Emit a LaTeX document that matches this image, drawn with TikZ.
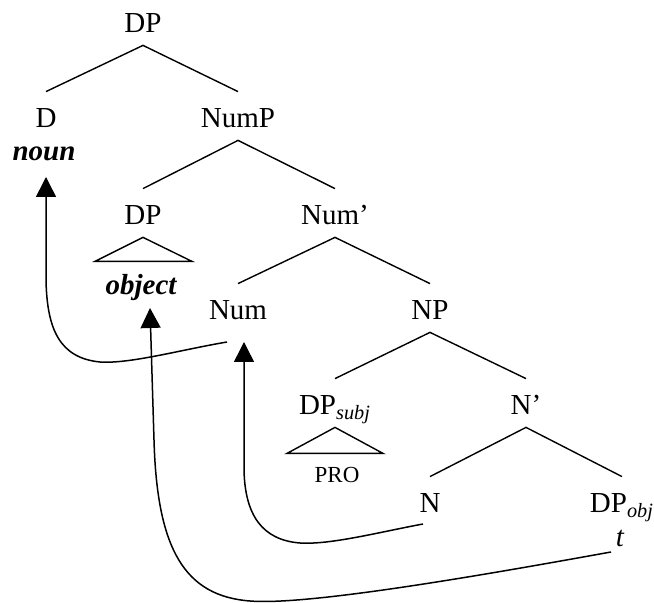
\documentclass[tikz,border=0pt]{standalone}
\usepackage{fontspec}
\setmainfont{Liberation Serif}
\usetikzlibrary{arrows.meta,calc}
\begin{document}
\begin{tikzpicture}[x=0.5pt,y=-0.5pt,
  lab/.style={anchor=base,inner sep=0pt,text height=18pt,text depth=6pt,font=\fontsize{14.5}{16}\selectfont},
  word/.style={anchor=base,inner sep=0pt,font=\fontsize{14.5}{16}\selectfont\bfseries\itshape},
  small/.style={anchor=base,inner sep=0pt,font=\fontsize{11.5}{13}\selectfont},
  branch/.style={line width=0.7pt},
  move/.style={line width=0.75pt,-{Triangle[length=10pt,width=10pt]}}]
\useasboundingbox (0,0) rectangle (654,603);
\node[lab] (dp) at (143,33) {DP};
\node[lab] (d) at (46,128) {D};
\node[lab] (nump) at (238,128) {NumP};
\node[word] (noun) at (44,161) {noun};
\node[lab] (dpo) at (143,225) {DP};
\node[lab] (numbar) at (335,225) {Num’};
\node[word] (object) at (141,295) {object};
\node[lab] (num) at (238,320) {Num};
\node[lab] (np) at (430,320) {NP};
\node[lab] (dps) at (335,415) {DP\textsubscript{\itshape subj}};
\node[lab] (nbar) at (526,415) {N’};
\node[small] (pro) at (337,483) {PRO};
\node[lab] (n) at (430,513) {N};
\node[lab] (dpobj) at (622,513) {DP\textsubscript{\itshape obj}};
\node[lab,font=\fontsize{14.5}{16}\selectfont\itshape] (t) at (620,547) {t};
% branches
\draw[branch] (d.north) -- (dp.south) -- (nump.north);
\draw[branch] (dpo.north) -- (nump.south) -- (numbar.north);
\draw[branch] (num.north) -- (numbar.south) -- (np.north);
\draw[branch] (dps.north) -- (np.south) -- (nbar.north);
\draw[branch] (n.north) -- (nbar.south) -- (dpobj.north);
% triangles
\draw[branch] ($(dpo.south)+(-48,24)$) -- (dpo.south) -- ($(dpo.south)+(49,24)$) -- cycle;
\draw[branch] ($(dps.south)+(-48,26)$) -- (dps.south) -- ($(dps.south)+(48,26)$) -- cycle;
% movement arrows
\coordinate (a1) at ($(num.base)+(-11,22)$);
\coordinate (a1e) at ($(noun.base)+(2,16)$);
\draw[move] (a1) .. controls (180,350) and (130,364) .. (100,362)
  .. controls (60,358) and (47,330) .. (46,280) -- (a1e);
\coordinate (a2) at ($(n.base)+(-7,11)$);
\coordinate (a2e) at ($(num.base)+(6,22)$);
\draw[move] (a2) .. controls (380,532) and (330,545) .. (300,543)
  .. controls (262,540) and (245,515) .. (244,470) -- (a2e);
\coordinate (a3) at ($(t.base)+(-9,5)$);
\coordinate (a3e) at ($(object.base)+(9,13)$);
\draw[move] (a3) .. controls (500,572) and (310,606) .. (250,601)
  .. controls (185,596) and (157,550) .. (154,440) -- (a3e);
\end{tikzpicture}
\end{document}
